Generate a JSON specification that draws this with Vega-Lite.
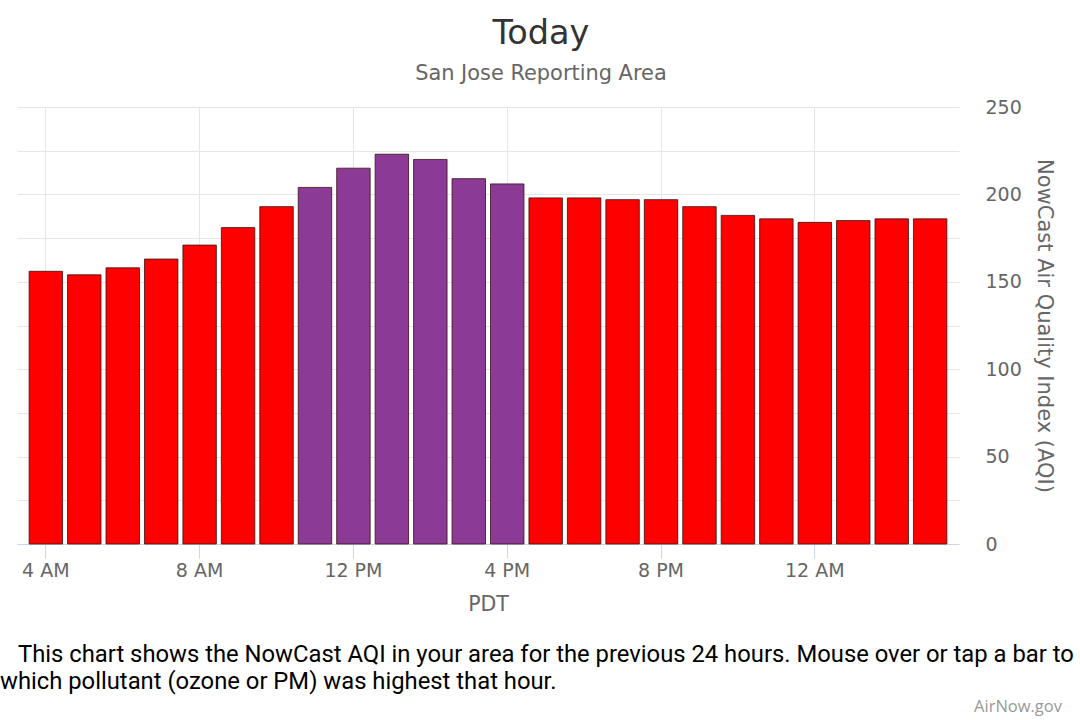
{
  "$schema": "https://vega.github.io/schema/vega-lite/v6.json",
  "padding": {"left": 0, "top": 16, "right": 0, "bottom": 0},
  "background": "white",
  "title": {
    "text": "Today",
    "subtitle": "San Jose Reporting Area",
    "fontSize": 33.5,
    "fontWeight": "normal",
    "font": "DejaVu Sans",
    "color": "#333333",
    "subtitleFont": "DejaVu Sans",
    "subtitleFontSize": 20.9,
    "subtitleColor": "#666666",
    "subtitlePadding": 12,
    "anchor": "middle",
    "dx": 4,
    "offset": 13
  },
  "spacing": 4,
  "vconcat": [
    {
      "width": 942,
      "height": 437,
      "data": {
        "values": [
          {"hour": "4 AM", "aqi": 156, "category": "Unhealthy"},
          {"hour": "5 AM", "aqi": 154, "category": "Unhealthy"},
          {"hour": "6 AM", "aqi": 158, "category": "Unhealthy"},
          {"hour": "7 AM", "aqi": 163, "category": "Unhealthy"},
          {"hour": "8 AM", "aqi": 171, "category": "Unhealthy"},
          {"hour": "9 AM", "aqi": 181, "category": "Unhealthy"},
          {"hour": "10 AM", "aqi": 193, "category": "Unhealthy"},
          {"hour": "11 AM", "aqi": 204, "category": "Very Unhealthy"},
          {"hour": "12 PM", "aqi": 215, "category": "Very Unhealthy"},
          {"hour": "1 PM", "aqi": 223, "category": "Very Unhealthy"},
          {"hour": "2 PM", "aqi": 220, "category": "Very Unhealthy"},
          {"hour": "3 PM", "aqi": 209, "category": "Very Unhealthy"},
          {"hour": "4 PM", "aqi": 206, "category": "Very Unhealthy"},
          {"hour": "5 PM", "aqi": 198, "category": "Unhealthy"},
          {"hour": "6 PM", "aqi": 198, "category": "Unhealthy"},
          {"hour": "7 PM", "aqi": 197, "category": "Unhealthy"},
          {"hour": "8 PM", "aqi": 197, "category": "Unhealthy"},
          {"hour": "9 PM", "aqi": 193, "category": "Unhealthy"},
          {"hour": "10 PM", "aqi": 188, "category": "Unhealthy"},
          {"hour": "11 PM", "aqi": 186, "category": "Unhealthy"},
          {"hour": "12 AM", "aqi": 184, "category": "Unhealthy"},
          {"hour": "1 AM", "aqi": 185, "category": "Unhealthy"},
          {"hour": "2 AM", "aqi": 186, "category": "Unhealthy"},
          {"hour": "3 AM", "aqi": 186, "category": "Unhealthy"}
        ]
      },
      "title": {
        "text": [
          "\u2800This chart shows the NowCast AQI in your area for the previous 24 hours. Mouse over or tap a bar to",
          "which pollutant (ozone or PM) was highest that hour."
        ],
        "orient": "bottom",
        "anchor": "start",
        "frame": "group",
        "dx": -17,
        "font": "Roboto",
        "fontSize": 23.8,
        "fontWeight": "normal",
        "color": "#000000",
        "lineHeight": 27,
        "offset": 28
      },
      "mark": {"type": "bar", "stroke": "#3a1010", "strokeWidth": 1, "strokeOpacity": 0.8},
      "encoding": {
        "x": {
          "field": "hour",
          "type": "ordinal",
          "sort": null,
          "scale": {"paddingInner": 0.13, "paddingOuter": 0.315},
          "axis": {
            "values": ["4 AM", "8 AM", "12 PM", "4 PM", "8 PM", "12 AM"],
            "title": "PDT",
            "labelAngle": 0,
            "bandPosition": 0.5,
            "grid": true,
            "gridColor": "#e6e6e6",
            "domainColor": "#ccd6eb",
            "tickColor": "#ccd6eb",
            "tickSize": 14,
            "labelPadding": 3,
            "labelFont": "DejaVu Sans",
            "labelFontSize": 19,
            "labelColor": "#666666",
            "titleFont": "DejaVu Sans",
            "titleFontSize": 20.5,
            "titleFontWeight": "normal",
            "titleColor": "#666666",
            "titlePadding": 14
          }
        },
        "y": {
          "field": "aqi",
          "type": "quantitative",
          "scale": {"domain": [0, 250]},
          "axis": {
            "orient": "right",
            "values": [0, 25, 50, 75, 100, 125, 150, 175, 200, 225, 250],
            "labelExpr": "datum.value % 50 == 0 ? datum.label : ''",
            "title": "NowCast Air Quality Index (AQI)",
            "domain": false,
            "ticks": false,
            "grid": true,
            "gridColor": "#e6e6e6",
            "labelPadding": 26,
            "labelFont": "DejaVu Sans",
            "labelFontSize": 19,
            "labelColor": "#666666",
            "titleFont": "DejaVu Sans",
            "titleFontSize": 21,
            "titleFontWeight": "normal",
            "titleColor": "#666666",
            "titlePadding": 12
          }
        },
        "color": {
          "field": "category",
          "type": "nominal",
          "scale": {"domain": ["Unhealthy", "Very Unhealthy"], "range": ["#ff0000", "#8b3a96"]},
          "legend": null
        }
      }
    },
    {
      "width": 942,
      "height": 1,
      "data": {"values": []},
      "mark": {"type": "text"},
      "title": {
        "text": "AirNow.gov",
        "orient": "top",
        "anchor": "end",
        "frame": "group",
        "dx": 103,
        "font": "Open Sans",
        "fontSize": 16.5,
        "fontWeight": "normal",
        "color": "#999999",
        "offset": 0
      }
    }
  ],
  "config": {
    "view": {"stroke": null}
  }
}
